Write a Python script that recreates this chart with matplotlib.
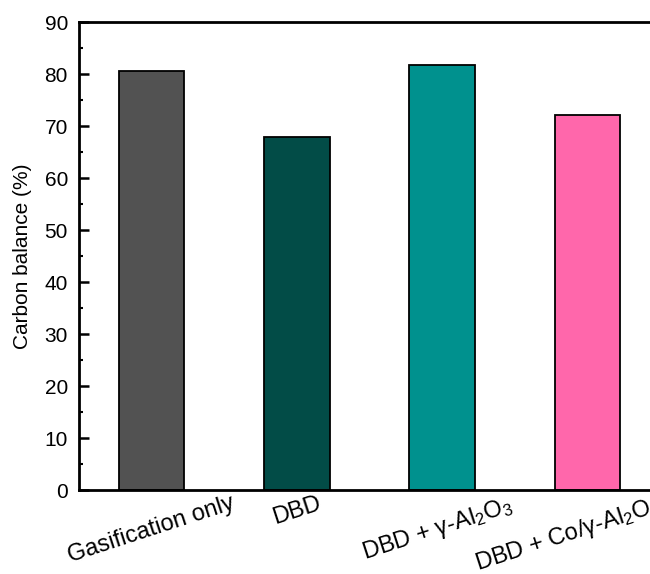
import numpy as np
import matplotlib
matplotlib.use("Agg")
import matplotlib.pyplot as plt
import matplotlib.transforms as mtransforms
from matplotlib.ticker import MultipleLocator

plt.rcParams['font.family'] = ['Liberation Sans', 'DejaVu Sans']
plt.rcParams['mathtext.fontset'] = 'custom'
plt.rcParams['mathtext.rm'] = 'Liberation Sans'
plt.rcParams['mathtext.it'] = 'Liberation Sans:italic'

# data
categories = ['Gasification only', 'DBD',
              'DBD + γ-Al$\\mathregular{_2}$O$\\mathregular{_3}$',
              'DBD + Co/γ-Al$\\mathregular{_2}$O$\\mathregular{_3}$']
carbon_balance = [80.6, 67.8, 81.7, 72.1]
bar_colors = ['#525252', '#024c47', '#00918e', '#ff67ab']

fig = plt.figure(figsize=(6.5, 5.74), dpi=100)
# axes runs past the right edge like in the original crop
ax = fig.add_axes([79/650, 84/574, 581/650, 468/574])

x = np.arange(len(categories))
ax.bar(x, carbon_balance, width=0.45, color=bar_colors,
       edgecolor='black', linewidth=1.3, zorder=2)

ax.set_xlim(-0.5, 3.5)
ax.set_ylim(0, 90)
ax.yaxis.set_major_locator(MultipleLocator(10))
ax.yaxis.set_minor_locator(MultipleLocator(5))
ax.tick_params(axis='y', which='major', direction='in', length=7, width=1.8,
               labelsize=15, pad=8)
ax.tick_params(axis='y', which='minor', direction='in', length=3, width=1.5)
ax.tick_params(axis='x', direction='in', length=0, labelsize=17, pad=2)

ax.set_xticks(x)
labels = ax.set_xticklabels(categories, rotation=18, ha='center')
# the last two labels sit a little left of their bars in the original
shifts = [0, 0, -0.05, -0.19]
for lab, dx in zip(labels, shifts):
    lab.set_transform(lab.get_transform() +
                      mtransforms.ScaledTranslation(dx, 0, fig.dpi_scale_trans))
ax.set_ylabel('Carbon balance (%)', fontsize=15, labelpad=9)

for s in ax.spines.values():
    s.set_linewidth(2)

fig.savefig('out.png', dpi=100)
